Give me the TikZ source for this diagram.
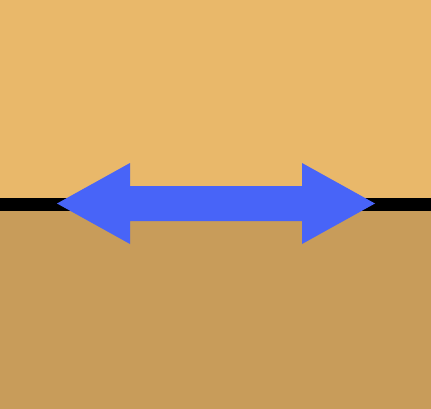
\documentclass[tikz,border=0pt]{standalone}
\usepackage{tikz}
\definecolor{sandtop}{HTML}{E9B86A}
\definecolor{sandlow}{HTML}{C89C5A}
\definecolor{arrowblue}{HTML}{4864F8}

\begin{document}
\begin{tikzpicture}[x=1pt, y=-1pt]

	\useasboundingbox (0, 0) rectangle (431, 409);
	\fill[sandtop] (0, 0) rectangle (431, 204);
	\fill[sandlow] (0, 204) rectangle (431, 409);
	\fill[black] (0, 197.5) rectangle (431, 210.5);

	\fill[arrowblue] (57, 203.5) -- (130, 163) -- (130, 186) -- (302, 186) -- (302, 163)
		-- (375, 203.5) -- (302, 244) -- (302, 221) -- (130, 221) -- (130, 244) -- cycle;

\end{tikzpicture}
\end{document}
